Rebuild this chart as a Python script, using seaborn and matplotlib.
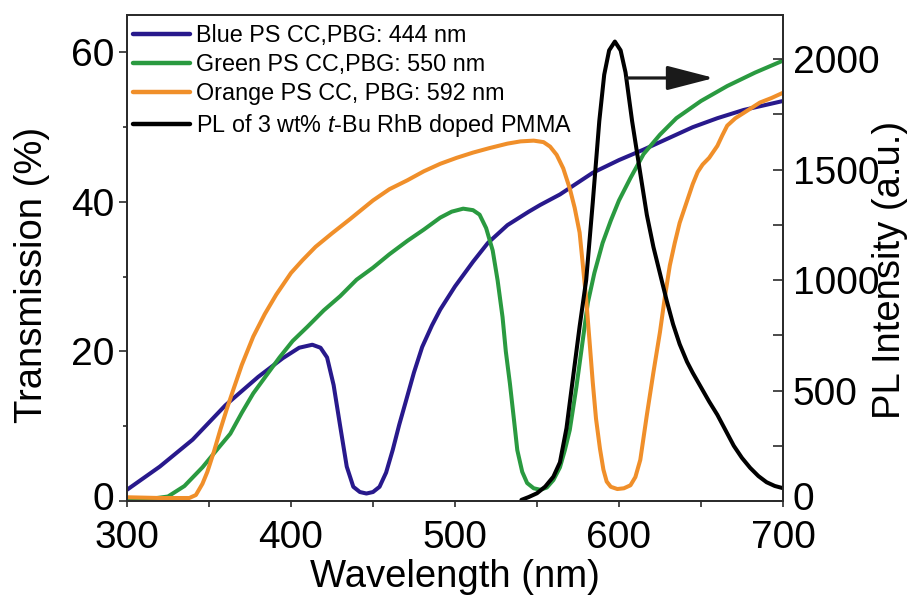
import numpy as np
import pandas as pd
import seaborn as sns
import matplotlib
matplotlib.use("Agg")
import matplotlib.pyplot as plt
import matplotlib.transforms as mtrans
from matplotlib import font_manager as fm
from matplotlib.ticker import MultipleLocator

# Transmission spectra of the photonic-crystal colour converters (%)
blue_wl = [300, 320, 340, 360, 380, 395, 405, 413, 418, 422, 426, 430, 434, 438,
           442, 446, 450, 454, 458, 462, 466, 470, 475, 480, 486, 491, 500, 511,
           520, 532, 545, 552, 564, 584, 600, 615, 630, 645, 660, 676, 690, 700]
blue_t = [1.5, 4.6, 8.2, 12.8, 16.6, 19.1, 20.5, 20.9, 20.5, 19.2, 15.5, 10.0, 4.6, 1.9,
          1.2, 1.0, 1.2, 1.9, 3.8, 6.8, 10.2, 13.3, 17.2, 20.6, 23.5, 25.6, 28.7, 32.0,
          34.5, 36.9, 38.7, 39.6, 41.0, 43.9, 45.6, 47.0, 48.5, 50.0, 51.2, 52.3, 53.0, 53.5]

green_wl = [300, 315, 325, 335, 346, 355, 363, 370, 377, 385, 393, 401, 410, 420, 430,
            440, 450, 460, 471, 481, 491, 498, 505, 511, 515, 519, 523, 526, 529, 531,
            533.5, 536, 538, 541, 544, 548, 552, 556, 560, 564, 567, 570, 574, 577,
            581, 585, 590, 595, 600, 607, 615, 625, 635, 650, 666, 683, 700]
green_t = [0.3, 0.3, 0.6, 2.0, 4.5, 6.9, 9.0, 11.8, 14.4, 16.8, 19.2, 21.4, 23.3, 25.5, 27.4,
           29.6, 31.2, 33.0, 34.8, 36.3, 37.9, 38.7, 39.1, 38.9, 38.3, 36.5, 33.5, 29.5, 24.6, 20.0,
           15.7, 10.8, 6.8, 3.9, 2.4, 1.7, 1.5, 1.8, 2.8, 4.5, 6.8, 9.5, 15.2, 20.0,
           26.5, 30.5, 34.5, 37.5, 40.2, 43.2, 46.4, 49.0, 51.2, 53.5, 55.5, 57.3, 58.9]

orange_wl = [300, 320, 338, 342, 346, 349, 353, 357, 361, 365, 370, 377, 384, 391, 400,
             407, 415, 425, 436, 450, 460, 471, 481, 491, 501, 511, 521, 532, 540, 548,
             554, 558, 562, 566, 570, 573, 576, 578, 580, 582, 584, 586, 588.4, 590.5,
             592.5, 595, 599, 603, 607, 610, 613, 617, 621, 625, 628, 631, 634, 637,
             641, 645, 648, 651, 655, 660, 663, 666, 671, 676, 681, 686, 693, 700]
orange_t = [0.5, 0.4, 0.4, 0.8, 2.3, 3.9, 6.6, 9.6, 12.4, 15.0, 18.2, 22.0, 25.0, 27.6, 30.5,
            32.2, 34.0, 35.8, 37.7, 40.2, 41.7, 42.9, 44.1, 45.1, 45.9, 46.6, 47.2, 47.8, 48.1, 48.2,
            48.0, 47.4, 46.3, 44.5, 41.8, 39.2, 35.9, 31.5, 27.0, 21.5, 15.9, 11.0, 7.0, 4.2,
            2.6, 1.9, 1.6, 1.7, 2.1, 3.2, 5.5, 11.5, 17.2, 22.6, 27.3, 31.5, 34.5, 37.2,
            39.8, 42.4, 44.0, 45.0, 45.9, 47.5, 48.9, 50.2, 51.2, 51.9, 52.6, 53.3, 53.9, 54.6]

# Photoluminescence of the dye-doped PMMA film (a.u.)
pl_wl = [540.5, 545, 550, 555, 560, 564, 568, 572, 576, 580, 584, 588, 591, 594, 597.5,
         601, 604, 608, 612, 617, 621, 625, 629, 633, 637, 641.5, 645, 650, 655, 660,
         665, 670, 675, 680, 685, 690, 695, 700]
pl_int = [5, 18, 35, 65, 110, 175, 330, 560, 790, 1000, 1350, 1720, 1930, 2040, 2080,
          2040, 1940, 1720, 1530, 1295, 1150, 1030, 910, 800, 710, 630, 580, 515, 450, 390,
          320, 250, 195, 150, 113, 85, 68, 58]

series_labels = ["Blue PS CC,PBG: 444 nm",
                 "Green PS CC,PBG: 550 nm",
                 "Orange PS CC, PBG: 592 nm",
                 r"PL of 3 wt% $\mathit{t}$-Bu RhB doped PMMA"]
series_colors = ["#28198c", "#2a9a40", "#f08f2a", "#000000"]

x_ticks = [300, 400, 500, 600, 700]
left_ticks = [0, 20, 40, 60]
right_ticks = [0, 500, 1000, 1500, 2000]


def has_font(name):
    try:
        fm.findfont(fm.FontProperties(family=name), fallback_to_default=False)
        return True
    except Exception:
        return False


sns.set_theme(style="white")
base_font = "Liberation Sans" if has_font("Liberation Sans") else "DejaVu Sans"
plt.rcParams["font.family"] = [base_font, "DejaVu Sans"]
plt.rcParams["mathtext.fontset"] = "custom"
plt.rcParams["mathtext.it"] = base_font + ":italic"
plt.rcParams["mathtext.rm"] = base_font
for key in ("text.color", "axes.labelcolor", "xtick.color", "ytick.color"):
    plt.rcParams[key] = "black"

tick_size, label_size = 28, 27.5

fig = plt.figure(figsize=(9.15, 6.01), dpi=100)
ax = fig.add_axes([0.1388, 0.1664, 0.7169, 0.8086])
ax2 = ax.twinx()

lw = 2.9
frames = [
    (blue_wl, blue_t, series_labels[0], series_colors[0]),
    (green_wl, green_t, series_labels[1], series_colors[1]),
    (orange_wl, orange_t, series_labels[2], series_colors[2]),
]
for wl, vals, lab, col in frames:
    df = pd.DataFrame({"wavelength": wl, "value": vals})
    sns.lineplot(data=df, x="wavelength", y="value", ax=ax, color=col, lw=lw,
                 label=lab, legend=False)

df_pl = pd.DataFrame({"wavelength": pl_wl, "value": pl_int})
sns.lineplot(data=df_pl, x="wavelength", y="value", ax=ax2, color=series_colors[3],
             lw=lw, label=series_labels[3], legend=False)

ax.set_xlim(300, 700)
ax.set_ylim(0, 65)
ax2.set_ylim(0, 2200)

ax.set_xticks(x_ticks)
ax.set_yticks(left_ticks)
ax2.set_yticks(right_ticks)
ax.xaxis.set_minor_locator(MultipleLocator(50))
ax.yaxis.set_minor_locator(MultipleLocator(10))
ax2.yaxis.set_minor_locator(MultipleLocator(250))

ax.set_xlabel("Wavelength (nm)", fontsize=label_size, labelpad=2)
ax.set_ylabel("Transmission (%)", fontsize=label_size)
ax2.set_ylabel("PL Intensity (a.u.)", fontsize=label_size, rotation=90)
ax.yaxis.set_label_coords(-0.118, 0.465)
ax2.yaxis.set_label_coords(1.136, 0.475)

spine_col = "#2b2b2b"
for a in (ax, ax2):
    for s in a.spines.values():
        s.set_color(spine_col)
        s.set_linewidth(1.3)
        s.set_visible(True)

ax.tick_params(axis="x", which="both", direction="out", length=4.5, width=1.2,
               color=spine_col, bottom=True, top=False, labelsize=tick_size, pad=9)
ax.tick_params(axis="y", which="major", direction="out", length=6, width=1.2,
               color=spine_col, left=True, right=False, labelsize=tick_size, pad=3)
ax.tick_params(axis="y", which="minor", direction="out", length=3, width=1.2,
               color=spine_col, left=True, right=False)
ax2.tick_params(axis="y", which="both", direction="in", length=7, width=1.2,
                color=spine_col, left=False, right=True, labelsize=tick_size, pad=7)

# nudge both zero labels up so they clear the wavelength labels below them
lift = mtrans.ScaledTranslation(0, 3.5 / 72, fig.dpi_scale_trans)
zero_left = ax.yaxis.get_major_ticks()[0].label1
zero_left.set_transform(zero_left.get_transform() + lift)
zero_right = ax2.yaxis.get_major_ticks()[0].label2
zero_right.set_transform(zero_right.get_transform() + lift)

# arrow pointing from the PL peak towards its own axis
ax2.annotate("", xy=(658, 1915), xytext=(604.5, 1915),
             arrowprops=dict(arrowstyle="-|>,head_length=2.9,head_width=0.75",
                             mutation_scale=10, lw=2.3, color="k", fc="k",
                             shrinkA=0, shrinkB=0))

handles = ax.get_lines()[:3] + ax2.get_lines()[:1]
leg = ax2.legend(handles, series_labels, loc="upper left", bbox_to_anchor=(0.0, 0.994),
                 frameon=False, fontsize=16.8, handlelength=2.45, handletextpad=0.27,
                 labelspacing=0.27, borderpad=0.0, borderaxespad=0.25)
for h in leg.get_lines():
    h.set_linewidth(3.2)

fig.savefig("out.png", dpi=100)
